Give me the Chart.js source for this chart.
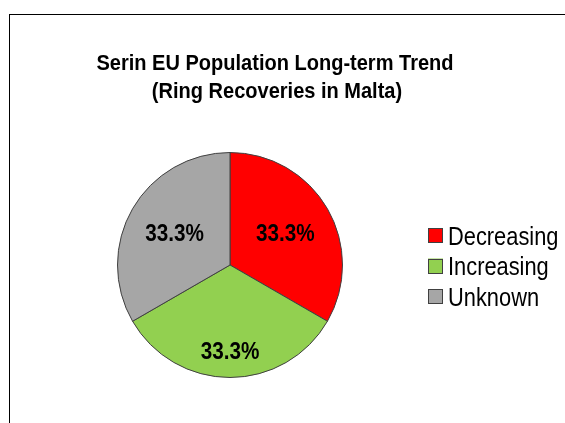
<!DOCTYPE html>
<html>
<head>
<meta charset="utf-8">
<title>Serin EU Population Long-term Trend</title>
<script src="https://cdn.jsdelivr.net/npm/chart.js@4.4.0/dist/chart.umd.min.js"></script>
<style>
  html, body { margin: 0; padding: 0; background: #fff; overflow: hidden; }
  #wrap { position: relative; width: 565px; height: 423px; }
  /* chart frame runs off the right and bottom edges */
  #frame { position: absolute; left: 9px; top: 14px; width: 620px; height: 460px; border: 1px solid #000; box-sizing: border-box; }
  canvas { position: absolute; left: 0; top: 0; }
</style>
</head>
<body>
<div id="wrap">
  <div id="frame"></div>
  <canvas id="trendChart" width="565" height="423"></canvas>
</div>
<script>
  // Data
  const titleLines = ['Serin EU Population Long-term Trend', '(Ring Recoveries in Malta)'];
  const categories = ['Decreasing', 'Increasing', 'Unknown'];
  const shares = [33.3, 33.3, 33.3];
  const sliceColors = ['#ff0000', '#92d050', '#a6a6a6'];

  const FONT = '"Liberation Sans", Arial, sans-serif';

  // Draws horizontally condensed text (Arial Narrow look)
  function drawText(ctx, text, x, y, size, weight, scaleX, align) {
    ctx.save();
    ctx.font = weight + ' ' + size + 'px ' + FONT;
    ctx.fillStyle = '#000';
    ctx.textAlign = align;
    ctx.textBaseline = 'alphabetic';
    ctx.translate(x, y);
    ctx.scale(scaleX, 1);
    ctx.fillText(text, 0, 0);
    ctx.restore();
  }

  const titlePlugin = {
    id: 'titleLines',
    afterDraw(chart) {
      const ctx = chart.ctx;
      drawText(ctx, titleLines[0], 275, 70, 22, 'bold', 0.91, 'center');
      drawText(ctx, titleLines[1], 277, 98, 22, 'bold', 0.91, 'center');
    }
  };

  // Percentage labels, kept a fixed gap inside the slice edge
  const sliceLabels = {
    id: 'sliceLabels',
    afterDatasetsDraw(chart) {
      const ctx = chart.ctx;
      const meta = chart.getDatasetMeta(0);
      const size = 23, scaleX = 0.9, gap = 19;
      const capH = size * 0.716;
      ctx.save();
      ctx.font = 'bold ' + size + 'px ' + FONT;
      meta.data.forEach(function(arc, i) {
        const text = shares[i].toFixed(1) + '%';
        const w = ctx.measureText(text).width * scaleX;
        const mid = (arc.startAngle + arc.endAngle) / 2;
        const dx = Math.cos(mid), dy = Math.sin(mid);
        const extent = Math.abs(dx) * w / 2 + Math.abs(dy) * capH / 2;
        const dist = arc.outerRadius - gap - extent;
        drawText(ctx, text, arc.x + dx * dist, arc.y + dy * dist + capH / 2, size, 'bold', scaleX, 'center');
      });
      ctx.restore();
    }
  };

  // Legend on the right
  const sideLegend = {
    id: 'sideLegend',
    afterDraw(chart) {
      const ctx = chart.ctx;
      const boxX = 428, box = 15, textX = 448, firstY = 235.5, step = 30.5;
      const size = 26, capH = size * 0.716;
      chart.data.labels.forEach(function(label, i) {
        const cy = firstY + i * step;
        ctx.save();
        ctx.fillStyle = sliceColors[i];
        ctx.fillRect(boxX, cy - box / 2, box, box);
        ctx.strokeStyle = '#404040';
        ctx.lineWidth = 1;
        ctx.strokeRect(boxX + 0.5, Math.round(cy - box / 2) + 0.5, box - 1, box - 1);
        ctx.restore();
        drawText(ctx, label, textX, cy + capH / 2, size, 'normal', 0.84, 'left');
      });
    }
  };

  new Chart(document.getElementById('trendChart'), {
    type: 'pie',
    data: {
      labels: categories,
      datasets: [{
        data: shares,
        backgroundColor: sliceColors,
        borderColor: '#404040',
        borderWidth: 1,
        hoverOffset: 0
      }]
    },
    options: {
      responsive: false,
      animation: false,
      layout: { padding: { left: 117, right: 222, top: 152, bottom: 45 } },
      plugins: {
        legend: { display: false },
        title: { display: false },
        tooltip: { enabled: false }
      }
    },
    plugins: [titlePlugin, sliceLabels, sideLegend]
  });
</script>
</body>
</html>
